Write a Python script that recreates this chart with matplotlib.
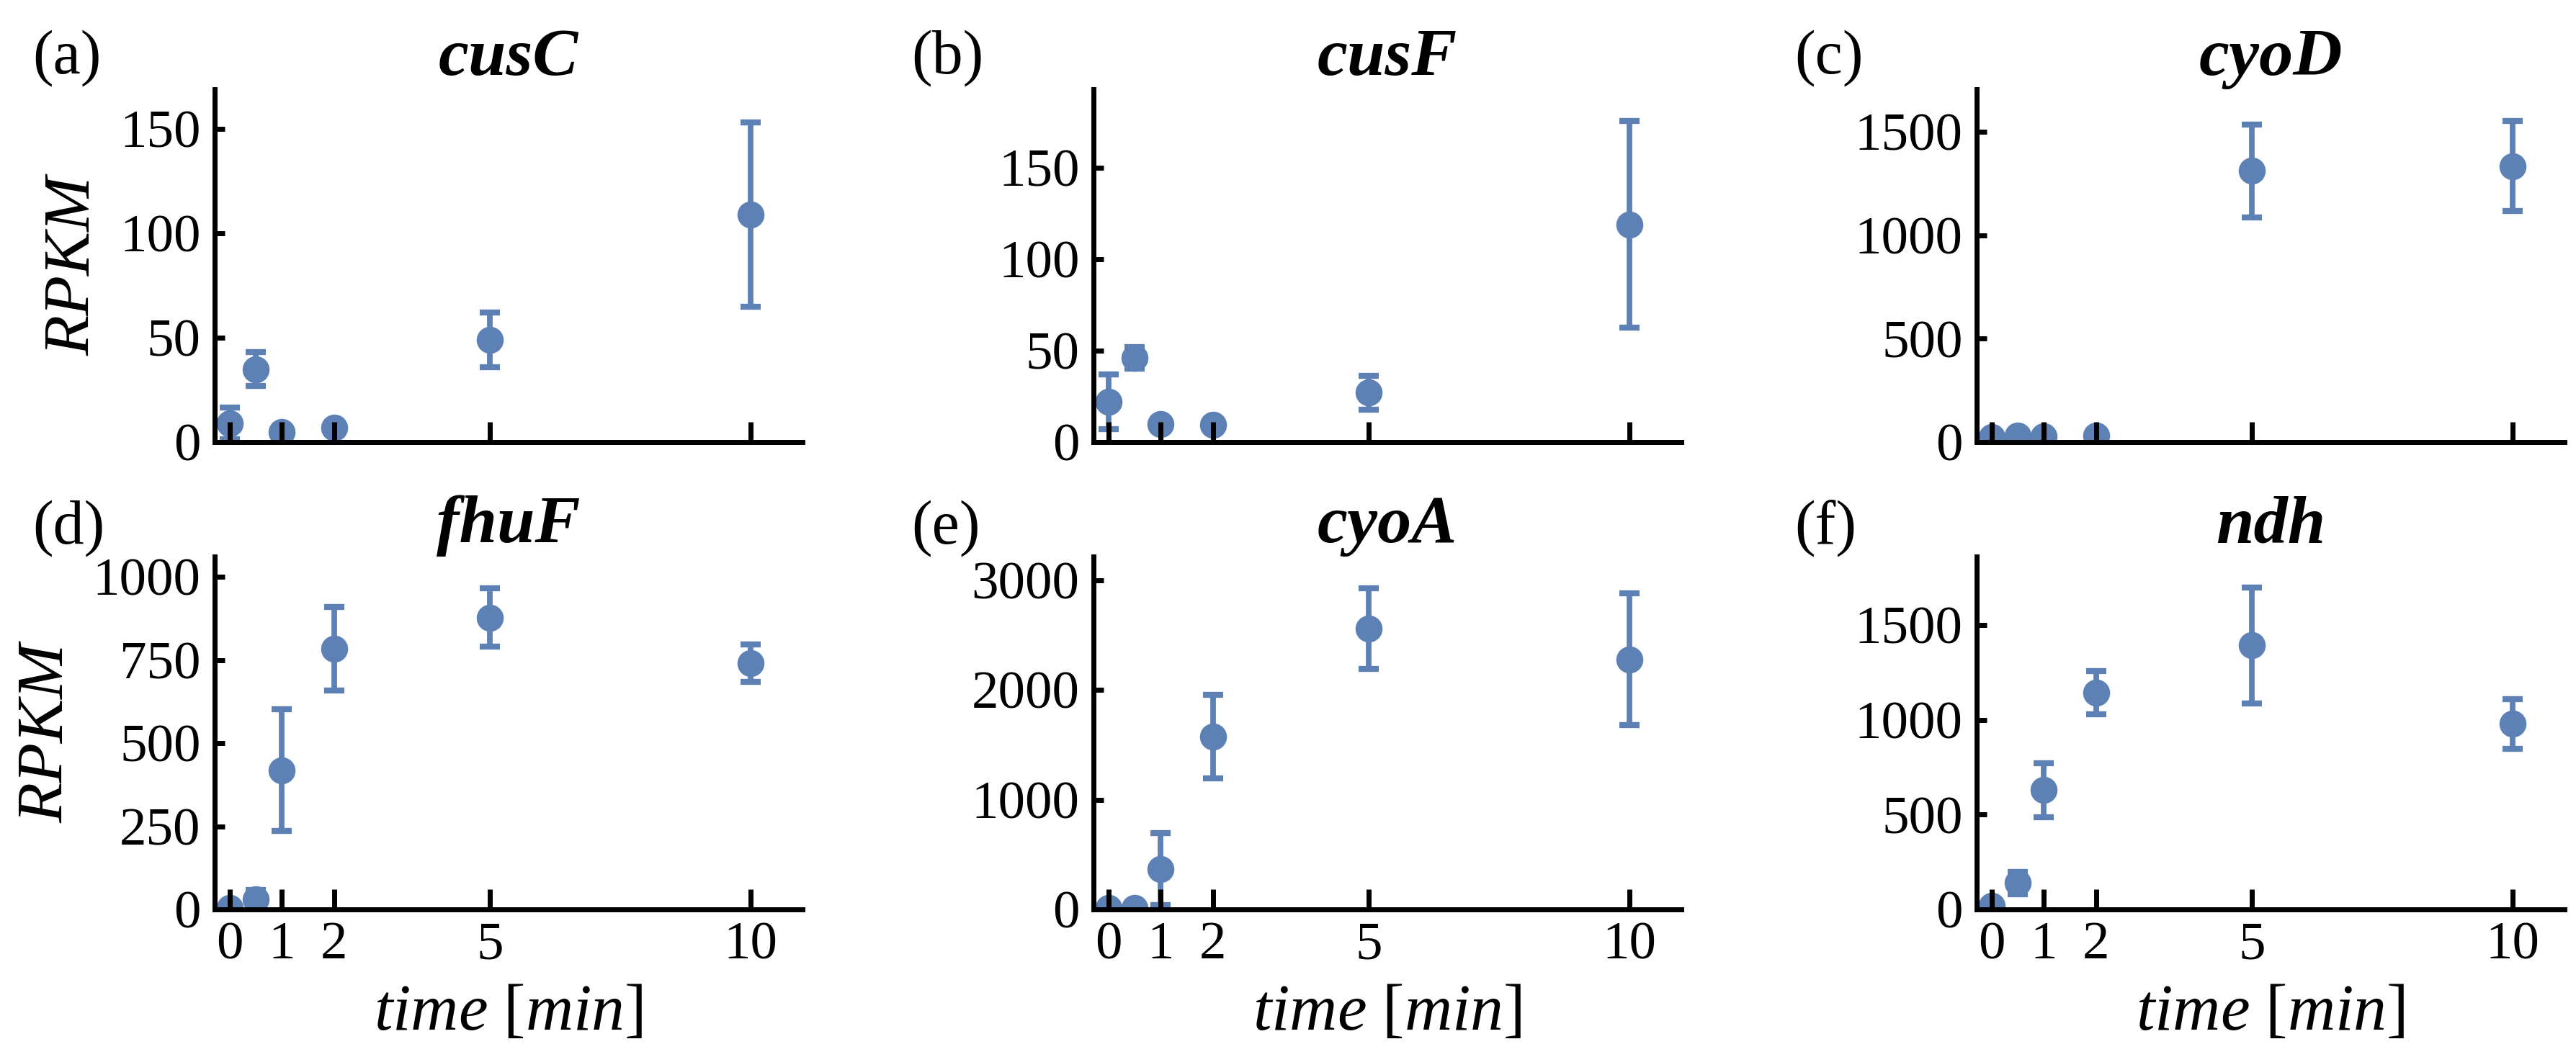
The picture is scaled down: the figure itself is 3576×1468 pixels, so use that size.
import matplotlib
matplotlib.use('Agg')
import matplotlib.pyplot as plt

plt.rcParams['font.family'] = 'serif'
plt.rcParams['font.serif'] = ['Liberation Serif']
plt.rcParams['mathtext.fontset'] = 'custom'
plt.rcParams['mathtext.rm'] = 'Liberation Serif'
plt.rcParams['mathtext.it'] = 'Liberation Serif:italic'
plt.rcParams['mathtext.bf'] = 'Liberation Serif:bold'

# tiempos de muestreo [min]
times = [0, 0.5, 1, 2, 5, 10]
xticks = [0, 1, 2, 5, 10]

genes = ['cusC', 'cusF', 'cyoD', 'fhuF', 'cyoA', 'ndh']
panel_labels = ['(a)', '(b)', '(c)', '(d)', '(e)', '(f)']

# RPKM medio y error de cada gen
cusC_mean = [9, 35, 5, 7, 49, 109]
cusC_err = [7.5, 8, 1.5, 2, 13, 44]
cusF_mean = [22, 46, 10, 9.5, 27, 119]
cusF_err = [15, 6, 2, 2.5, 9.3, 56.5]
cyoD_mean = [25, 30, 28, 30, 1311, 1334]
cyoD_err = [5, 5, 5, 5, 224, 218]
fhuF_mean = [5, 31, 418, 784, 878, 741]
fhuF_err = [3, 27, 183, 126, 88, 56]
cyoA_mean = [10, 15, 367, 1575, 2558, 2279]
cyoA_err = [5, 8, 325, 378, 367, 600]
ndh_mean = [20, 139, 629, 1144, 1393, 978]
ndh_err = [10, 60, 143, 115, 305, 130]

means = [cusC_mean, cusF_mean, cyoD_mean, fhuF_mean, cyoA_mean, ndh_mean]
errs = [cusC_err, cusF_err, cyoD_err, fhuF_err, cyoA_err, ndh_err]

yticks = [[0, 50, 100, 150], [0, 50, 100, 150], [0, 500, 1000, 1500],
          [0, 250, 500, 750, 1000], [0, 1000, 2000, 3000], [0, 500, 1000, 1500]]
ytops = [169, 193, 1706, 1061, 3214, 1861]

blue = '#5E81B5'
serif = 'Liberation Serif'

fig = plt.figure(figsize=(17.88, 7.34), dpi=200)

W, H = 3576.0, 1468.0
lefts = [298 / W, 1518 / W, 2744 / W]
bottoms = [1 - 614 / H, 1 - 1263 / H]
w = 816 / W
h = 490 / H

for i in range(6):
    row, col = i // 3, i % 3
    ax = fig.add_axes([lefts[col], bottoms[row], w, h])
    ax.errorbar(times, means[i], yerr=errs[i], fmt='o', color=blue, ms=12.5,
                elinewidth=2.8, capsize=5.2, capthick=3.0)
    ax.set_xlim(-0.29, 11.0)
    ax.set_ylim(0, ytops[i])
    ax.set_xticks(xticks)
    ax.set_yticks(yticks[i])
    if row == 0:
        ax.set_xticklabels([])
    else:
        ax.set_xlabel(r'$time\ [min]$', fontsize=33, labelpad=7)
    if col == 0:
        ax.set_ylabel('RPKM', fontsize=33, family=serif, fontstyle='italic', labelpad=8)
    for s in ['top', 'right']:
        ax.spines[s].set_visible(False)
    for s in ['left', 'bottom']:
        ax.spines[s].set_linewidth(2.5)
    ax.tick_params(axis='x', direction='in', length=10, width=2.5, pad=6, labelsize=27)
    ax.tick_params(axis='y', direction='in', length=5, width=2.5, pad=7, labelsize=27)
    for lab in ax.get_xticklabels() + ax.get_yticklabels():
        lab.set_family(serif)
    ax.set_axisbelow(False)
    ax.set_title(genes[i], fontsize=34, family=serif, fontweight='bold',
                 fontstyle='italic', pad=4)
    label_y = 1 - 81 / H if row == 0 else 1 - 734 / H
    fig.text(lefts[col] - 253 / W, label_y, panel_labels[i], fontsize=31,
             family=serif, ha='left', va='center')

fig.savefig('out.png', dpi=200)
